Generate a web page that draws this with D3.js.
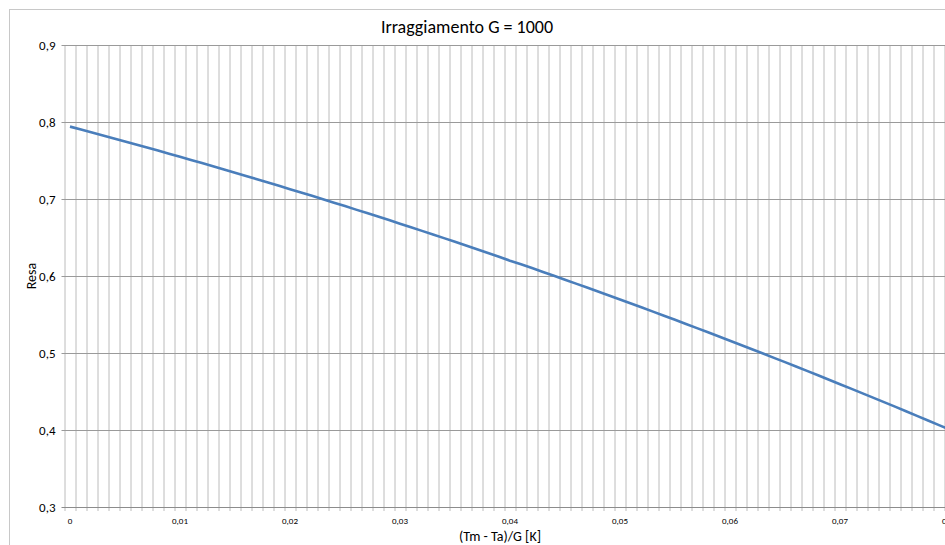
<!DOCTYPE html>
<html>
<head>
<meta charset="utf-8">
<script src="https://cdn.jsdelivr.net/npm/d3@7"></script>
<style>
  body { margin: 0; background: #fff; overflow: hidden; }
  text { font-family: Carlito, Calibri, Lato, sans-serif; fill: #000; }
</style>
</head>
<body>
<div id="chart"></div>
<script>
// categories on the x axis: (Tm - Ta)/G
var xValues = [0, 0.001, 0.002, 0.003, 0.004, 0.005, 0.006, 0.007, 0.008, 0.009,
  0.010, 0.011, 0.012, 0.013, 0.014, 0.015, 0.016, 0.017, 0.018, 0.019,
  0.020, 0.021, 0.022, 0.023, 0.024, 0.025, 0.026, 0.027, 0.028, 0.029,
  0.030, 0.031, 0.032, 0.033, 0.034, 0.035, 0.036, 0.037, 0.038, 0.039,
  0.040, 0.041, 0.042, 0.043, 0.044, 0.045, 0.046, 0.047, 0.048, 0.049,
  0.050, 0.051, 0.052, 0.053, 0.054, 0.055, 0.056, 0.057, 0.058, 0.059,
  0.060, 0.061, 0.062, 0.063, 0.064, 0.065, 0.066, 0.067, 0.068, 0.069,
  0.070, 0.071, 0.072, 0.073, 0.074, 0.075, 0.076, 0.077, 0.078, 0.079, 0.080]

// resa (efficiency)
var resa = [0.7940, 0.7902, 0.7864, 0.7826, 0.7787, 0.7748, 0.7709, 0.7669, 0.7629, 0.7589,
  0.7549, 0.7508, 0.7467, 0.7426, 0.7384, 0.7342, 0.7300, 0.7257, 0.7215, 0.7172,
  0.7128, 0.7085, 0.7041, 0.6997, 0.6952, 0.6908, 0.6862, 0.6817, 0.6772, 0.6726,
  0.6679, 0.6633, 0.6586, 0.6539, 0.6492, 0.6444, 0.6396, 0.6348, 0.6299, 0.6251,
  0.6198, 0.6152, 0.6103, 0.6053, 0.6002, 0.5952, 0.5901, 0.5850, 0.5799, 0.5747,
  0.5695, 0.5643, 0.5590, 0.5537, 0.5484, 0.5431, 0.5377, 0.5323, 0.5269, 0.5214,
  0.5160, 0.5104, 0.5049, 0.4993, 0.4937, 0.4881, 0.4825, 0.4768, 0.4711, 0.4653,
  0.4595, 0.4537, 0.4479, 0.4421, 0.4362, 0.4303, 0.4243, 0.4183, 0.4123, 0.4063, 0.4002]

var yTicks = [0.3, 0.4, 0.5, 0.6, 0.7, 0.8, 0.9]
var xTickLabels = ["0", "0,01", "0,02", "0,03", "0,04", "0,05", "0,06", "0,07", "0,08"]

var titleText = "Irraggiamento G = 1000"
var xTitle = "(Tm - Ta)/G [K]"
var yTitle = "Resa"

var W = 945, H = 545
var margin = {top: 45, left: 64.5}
var bandW = 11
var plotW = bandW * xValues.length
var plotH = 462

var svg = d3.select("#chart").append("svg")
    .attr("width", W)
    .attr("height", H)

// outer chart border (only top and left visible)
svg.append("rect")
    .attr("x", 9.5).attr("y", 9.5)
    .attr("width", 1000).attr("height", 600)
    .attr("fill", "#fff")
    .attr("stroke", "#c8c8c8")

var g = svg.append("g")
    .attr("transform", "translate(" + margin.left + "," + margin.top + ")")

// category axis, points in the middle of each band
var x = d3.scaleBand()
    .domain(xValues)
    .range([0, plotW])

var y = d3.scaleLinear()
    .domain([0.3, 0.9])
    .range([plotH, 0])

// vertical gridlines on band edges
var edges = xValues.map(function(d) { return x(d) })
edges.push(plotW)
g.append("g").selectAll("line")
    .data(edges)
    .enter().append("line")
    .attr("x1", function(d) { return Math.round(d) + 0.5 })
    .attr("x2", function(d) { return Math.round(d) + 0.5 })
    .attr("y1", 0)
    .attr("y2", plotH + 4)
    .attr("stroke", "#bcbcbc")
    .attr("stroke-width", 1)

// horizontal gridlines + ticks on the left
g.append("g").selectAll("line")
    .data(yTicks)
    .enter().append("line")
    .attr("x1", -3)
    .attr("x2", plotW)
    .attr("y1", function(d) { return Math.round(y(d)) + 0.5 })
    .attr("y2", function(d) { return Math.round(y(d)) + 0.5 })
    .attr("stroke", function(d) { return d == 0.3 ? "#8c8c8c" : "#9a9a9a" })
    .attr("stroke-width", 1)

// y labels
g.append("g").selectAll("text")
    .data(yTicks)
    .enter().append("text")
    .attr("x", -9)
    .attr("y", function(d) { return y(d) + 4.5 })
    .attr("text-anchor", "end")
    .style("font-size", "13px")
    .text(function(d) { return d.toFixed(1).replace(".", ",") })

// x labels every 10th category
var labelled = xValues.filter(function(d, i) { return i % 10 == 0 })
g.append("g").selectAll("text")
    .data(labelled)
    .enter().append("text")
    .attr("x", function(d) { return x(d) + bandW / 2 })
    .attr("y", plotH + 17)
    .attr("text-anchor", "middle")
    .style("font-size", "9px")
    .text(function(d, i) { return xTickLabels[i] })

// the line
var line = d3.line()
    .x(function(d, i) { return x(xValues[i]) + bandW / 2 })
    .y(function(d) { return y(d) })

g.append("path")
    .datum(resa)
    .attr("fill", "none")
    .attr("stroke", "#4a7ebb")
    .attr("stroke-width", 2.6)
    .attr("stroke-linejoin", "round")
    .attr("d", line)

// titles
svg.append("text")
    .attr("x", 467)
    .attr("y", 33)
    .attr("text-anchor", "middle")
    .style("font-size", "18px")
    .text(titleText)

svg.append("text")
    .attr("x", 500)
    .attr("y", 541)
    .attr("text-anchor", "middle")
    .style("font-size", "14px")
    .text(xTitle)

svg.append("text")
    .attr("transform", "translate(36," + (margin.top + plotH / 2) + ") rotate(-90)")
    .attr("text-anchor", "middle")
    .style("font-size", "14px")
    .text(yTitle)
</script>
</body>
</html>
